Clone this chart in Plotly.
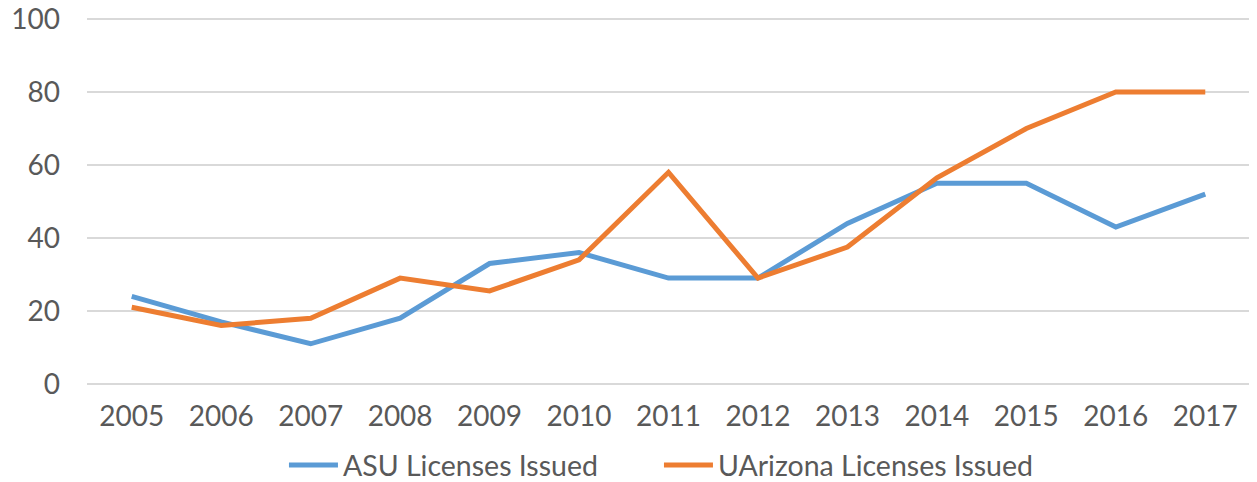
import plotly.graph_objects as go

years = ["2005", "2006", "2007", "2008", "2009", "2010", "2011",
         "2012", "2013", "2014", "2015", "2016", "2017"]
asu = [24, 17, 11, 18, 33, 36, 29, 29, 44, 55, 55, 43, 52]
uarizona = [21, 16, 18, 29, 25.5, 34, 58, 29, 37.5, 56.5, 70, 80, 80]
y_ticks = [0, 20, 40, 60, 80, 100]

fig = go.Figure()
fig.add_trace(go.Scatter(x=years, y=asu, mode="lines", name="ASU Licenses Issued",
                         line=dict(color="#5B9BD5", width=5)))
fig.add_trace(go.Scatter(x=years, y=uarizona, mode="lines", name="UArizona Licenses Issued",
                         line=dict(color="#ED7D31", width=5)))

# page body has an 8px default margin, so the figure is sized to fit inside it
fig.update_layout(
    width=1249, height=474,
    margin=dict(l=79, r=7, t=10, b=97, autoexpand=False),
    plot_bgcolor="white", paper_bgcolor="white",
    font=dict(family="Lato", size=28, color="#595959"),
    showlegend=True,
    legend=dict(orientation="h", x=0.4918, xanchor="center", y=-0.219, yanchor="middle",
                font=dict(size=28.5, color="#595959"), itemwidth=49, entrywidth=311),
)
fig.update_xaxes(type="category", range=[-0.5, 12.5], showgrid=False, zeroline=False,
                 showline=False, ticks="", ticklabelstandoff=12, automargin=False)
fig.update_yaxes(range=[-0.3, 100.3], tickvals=y_ticks, showgrid=True, gridcolor="#D9D9D9",
                 gridwidth=1.5, zeroline=False, showline=False, ticks="",
                 ticklabelstandoff=26, automargin=False, ticklabeloverflow="allow")

fig.write_html("out.html")
